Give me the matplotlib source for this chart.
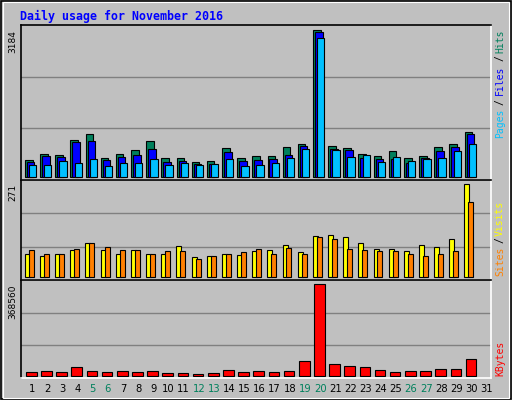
import matplotlib
matplotlib.use("Agg")
import matplotlib.pyplot as plt
from matplotlib.patches import Rectangle
import numpy as np

days = [str(d) for d in range(1, 32)]
weekend = [5, 6, 12, 13, 19, 20, 26, 27]
hits = [375, 504, 482, 806, 936, 418, 504, 590, 785, 418, 418, 331, 353, 634, 418, 461, 461, 655, 720, 3184,
        677, 634, 504, 461, 569, 418, 461, 655, 720, 979, 0]
files = [324, 461, 432, 763, 785, 375, 439, 482, 612, 331, 353, 288, 288, 547, 353, 375, 396, 482, 677, 3139,
         612, 590, 418, 396, 396, 310, 418, 569, 655, 936, 0]
pages = [266, 266, 353, 310, 396, 245, 310, 310, 396, 266, 310, 266, 288, 396, 245, 266, 310, 418, 612, 3010,
         590, 439, 482, 331, 439, 353, 396, 418, 569, 720, 0]
visits = [66, 60, 66, 77, 98, 77, 68, 77, 66, 68, 89, 57, 60, 68, 63, 74, 77, 92, 71, 118,
          121, 115, 98, 80, 80, 74, 92, 86, 110, 271, 0]
sites = [77, 66, 68, 80, 98, 86, 77, 77, 68, 74, 74, 51, 60, 66, 71, 80, 68, 83, 66, 115,
         110, 80, 77, 74, 74, 66, 60, 66, 74, 218, 0]
kbytes = [13450, 17500, 13450, 33600, 17500, 13450, 17500, 13450, 17500, 9400, 9400, 5400, 9400, 21500, 13450,
          17500, 13450, 17500, 57800, 368560, 45700, 37700, 33600, 21500, 13450, 17500, 17500, 25600, 25600, 65900, 0]

BG = "#C0C0C0"
C_HITS, C_FILES, C_PAGES = "#00805C", "#0000FF", "#00C0FF"
C_VIS, C_SITES, C_KB = "#FFFF00", "#FF8000", "#FF0000"
MONO = "DejaVu Sans Mono"

fig = plt.figure(figsize=(5.12, 4.0), dpi=100)
fig.patch.set_facecolor(BG)
fig.patches.append(Rectangle((0.002, 0.002), 0.996, 0.995, transform=fig.transFigure,
                             fill=False, edgecolor="black", lw=1.2))
fig.patches.append(Rectangle((0.006, 0.006), 0.988, 0.988, transform=fig.transFigure,
                             fill=False, edgecolor="white", lw=0.8))
fig.text(20 / 512, 1 - 16 / 400, "Daily usage for November 2016", color="#0000FF",
         fontsize=8.4, fontweight="bold", family=MONO, va="center", ha="left")

x = np.arange(31)
L, W = 20.7 / 512, 470 / 512
ax1 = fig.add_axes([L, 1 - 180 / 400, W, 155 / 400])
ax2 = fig.add_axes([L, 1 - 280 / 400, W, 100 / 400])
ax3 = fig.add_axes([L, 1 - 378 / 400, W, 98 / 400])

def style(ax, ymax, yl):
    ax.set_facecolor(BG)
    ax.set_xlim(0, 31)
    ax.set_ylim(*yl)
    for f in (1 / 3, 2 / 3):
        ax.plot([0, 1], [f, f], transform=ax.transAxes, color="#808080", lw=1, zorder=0)
    ax.set_yticks([])
    ax.spines["left"].set_color("black")
    ax.spines["top"].set_color("black")
    ax.spines["right"].set_color("white")
    ax.spines["bottom"].set_color("white")
    for s in ax.spines.values():
        s.set_linewidth(1.2)
    ax.text(-8 / 470, ymax, str(ymax), transform=ax.get_yaxis_transform(), rotation=90,
            ha="center", va="top", fontsize=6.5, family="DejaVu Sans")

def bars(ax, offset, vals, width, color):
    lw = [0.8 if v > 0 else 0 for v in vals]
    ax.bar(x + offset, vals, width, color=color, align="edge", edgecolor="black",
           linewidth=lw, zorder=2)

bars(ax1, 0.28, hits, 0.5, C_HITS)
bars(ax1, 0.41, files, 0.5, C_FILES)
bars(ax1, 0.55, pages, 0.48, C_PAGES)
style(ax1, max(hits), (-65, 3292))

bars(ax2, 0.27, visits, 0.33, C_VIS)
bars(ax2, 0.53, sites, 0.33, C_SITES)
style(ax2, max(visits), (-9.7, 283.6))

bars(ax3, 0.35, kbytes, 0.7, C_KB)
style(ax3, max(kbytes), (-9300, 385900))

for ax in (ax1, ax2):
    ax.set_xticks([])
ax3.set_xticks(x + 0.75)
ax3.set_xticklabels(days, fontsize=7.2)
ax3.tick_params(axis="x", length=0, pad=4)
for lab, d in zip(ax3.get_xticklabels(), range(1, 32)):
    lab.set_color(C_HITS if d in weekend else "black")

def rlabel(ypix, s, c):
    fig.text(500 / 512, 1 - ypix / 400, s, color=c, rotation=90, ha="center", va="center",
             fontsize=7.0, family=MONO)

rlabel(41, "Hits", C_HITS)
rlabel(58, "/", "black")
rlabel(80, "Files", C_FILES)
rlabel(102, "/", "black")
rlabel(123, "Pages", C_PAGES)
rlabel(218, "Visits", C_VIS)
rlabel(240, "/", "black")
rlabel(261, "Sites", C_SITES)
rlabel(358, "KBytes", C_KB)

fig.savefig("out.png", dpi=100, facecolor=BG)
